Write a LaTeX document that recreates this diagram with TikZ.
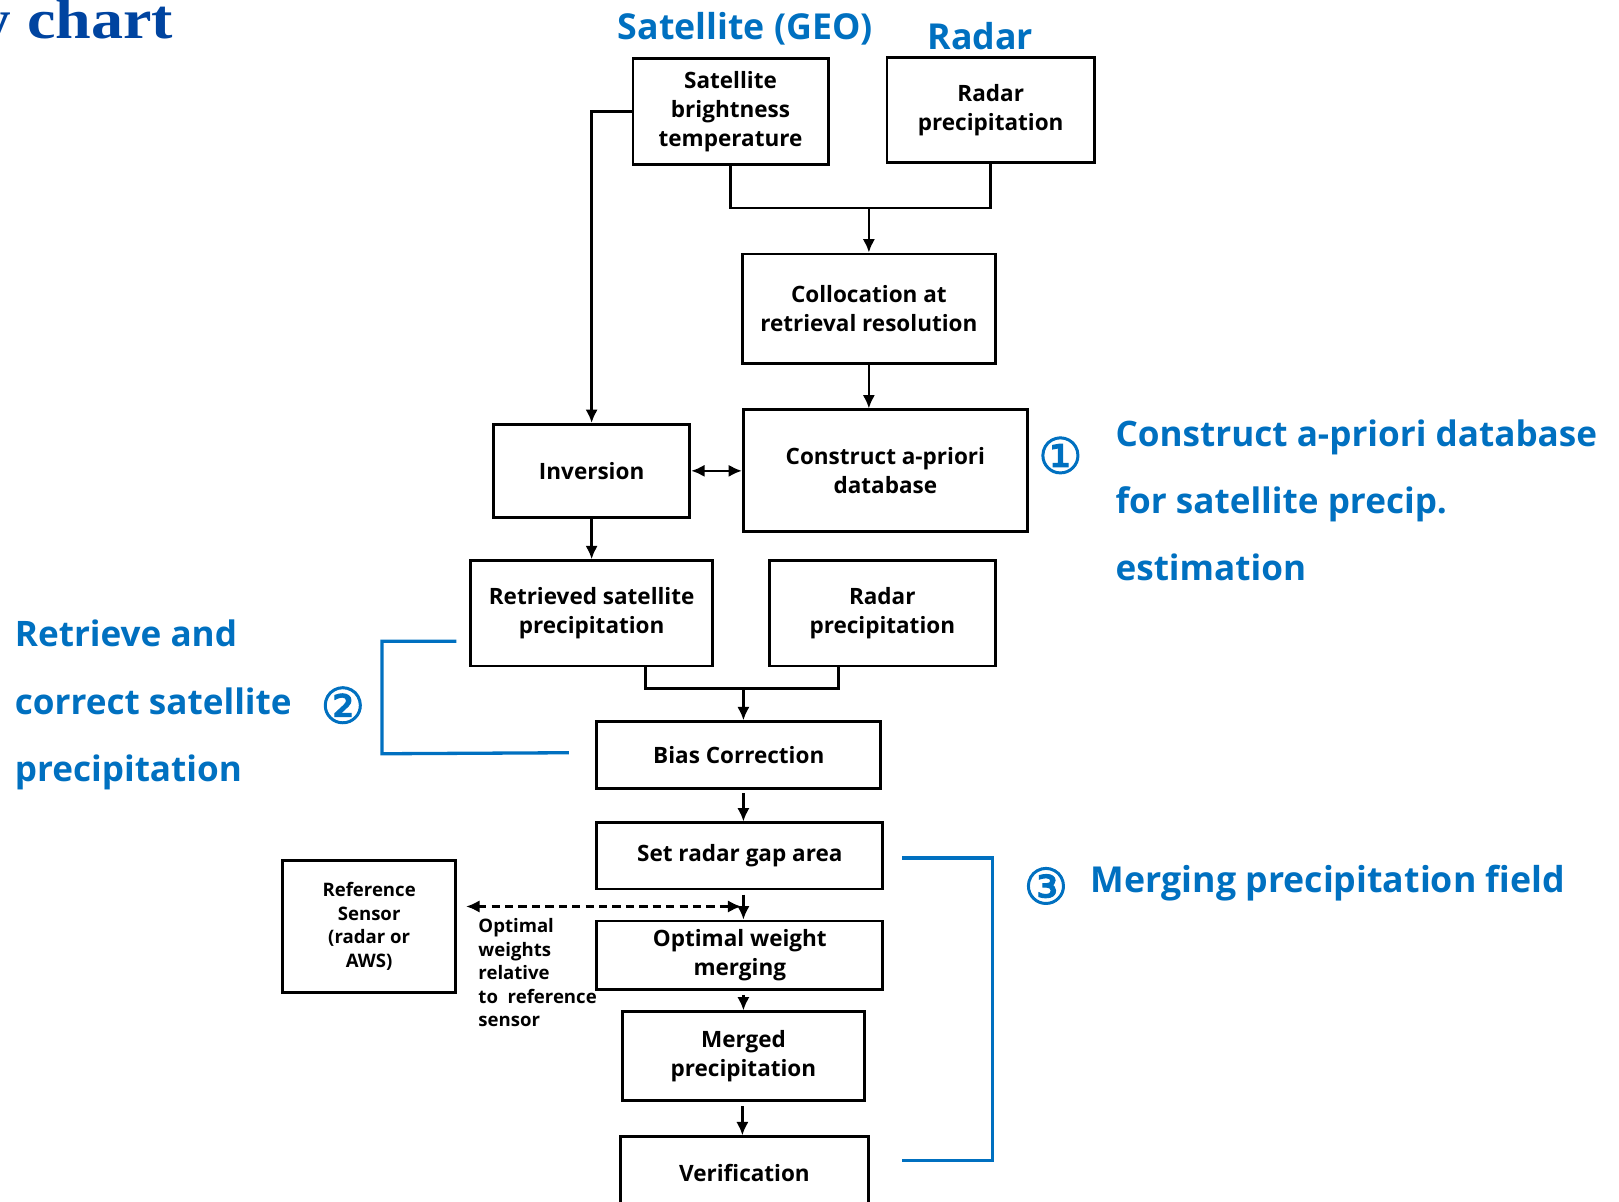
\documentclass[tikz,border=0pt]{standalone}
\usepackage{fontspec}
\setmainfont{Open Sans}
\newfontfamily\symfont[FakeBold=2]{DejaVu Sans}
\newfontfamily\titlefont[FakeStretch=1.15]{Liberation Serif}
\usetikzlibrary{arrows.meta,calc}
\definecolor{hdblue}{RGB}{0,112,192}
\definecolor{ttlblue}{RGB}{0,68,160}
\begin{document}
\begin{tikzpicture}[x=0.5pt,y=-0.5pt,
 box/.style={draw, line width=1.4pt, align=center, inner sep=0pt, font=\bfseries\fontsize{10.9}{14}\selectfont},
 smallbox/.style={box, font=\bfseries\fontsize{9}{11.4}\selectfont},
 arr/.style={line width=1.25pt, -{Latex[length=6.5pt,width=6pt]}},
 dbl/.style={line width=1.25pt, {Latex[length=6.5pt,width=6pt]}-{Latex[length=6.5pt,width=6pt]}},
 ln/.style={line width=1.25pt},
 brk/.style={draw=hdblue, line width=1.6pt},
 lbl/.style={text=hdblue, font=\bfseries\fontsize{17}{21}\selectfont, anchor=base west, inner sep=0pt},
 num/.style={text=hdblue, font=\symfont\fontsize{24}{27}\selectfont, inner sep=0pt},
 note/.style={font=\bfseries\fontsize{9}{11.4}\selectfont, align=left, anchor=north west, inner sep=0pt}
]
\useasboundingbox (0,0) rectangle (1568,1164);
\clip (0,0) rectangle (1568,1164);

% title
\node[anchor=base east, inner sep=0pt, text=ttlblue, font=\titlefont\bfseries\fontsize{27}{30}\selectfont] (title) at (168,37) {Flow chart};

% header labels
\node[lbl, font=\bfseries\fontsize{17.3}{21}\selectfont] (lsat) at (598,38) {Satellite (GEO)};
\node[lbl, font=\bfseries\fontsize{17.3}{21}\selectfont] (lradar) at (898,48) {Radar};

% boxes
\node[box, minimum width=94.5pt, minimum height=51pt] (sat) at (707.5,108) {Satellite\\brightness\\temperature};
\node[box, minimum width=100.5pt, minimum height=50.5pt] (rad1) at (959.5,106.5) {Radar\\precipitation};
\node[box, minimum width=122.5pt, minimum height=53pt] (coll) at (841.5,299) {Collocation at\\retrieval resolution};
\node[box, minimum width=137.5pt, minimum height=59pt] (cons) at (857.5,456) {Construct a-priori\\database};
\node[box, minimum width=95pt, minimum height=45pt] (inv) at (573,456) {Inversion};
\node[box, minimum width=117pt, minimum height=51pt] (ret) at (573,594) {Retrieved satellite\\precipitation};
\node[box, minimum width=109.5pt, minimum height=51pt] (rad2) at (854.5,594) {Radar\\precipitation};
\node[box, minimum width=137.5pt, minimum height=32.5pt] (bias) at (715.5,731.5) {Bias Correction};
\node[box, minimum width=138.5pt, minimum height=32pt] (gap) at (716.5,829) {Set radar gap area};
\node[box, minimum width=138.5pt, minimum height=33pt] (opt) at (716.5,925) {Optimal weight\\merging};
\node[box, minimum width=117pt, minimum height=43pt] (mer) at (720,1023) {Merged\\precipitation};
\node[box, minimum width=120pt, minimum height=35pt] (ver) at (721,1136) {Verification};
\node[smallbox, minimum width=83.5pt, minimum height=64pt] (refs) at (357.5,897) {Reference\\Sensor\\(radar or\\AWS)};

\node[note] (wnote) at (463,889) {Optimal\\weights\\relative\\to\ \ reference\\sensor};

% connectors
\path (coll.north) ++(0,-43) coordinate (j1);
\draw[ln] (sat.south) -- (sat.south |- j1) -- (rad1.south |- j1) -- (rad1.south);
\draw[arr] (j1) -- (coll.north -| j1);
\draw[arr] (coll.south -| j1) -- (cons.north -| j1);
\draw[dbl] (inv.east) -- (cons.west);
\draw[arr] (sat.west) -| (inv.north);
\draw[arr] (inv.south) -- (ret.north);

\coordinate (j2) at (720,667);
\draw[ln] ($(ret.south)+(52,0)$) |- (j2) -| ($(rad2.south)+(-42.5,0)$);
\draw[arr] (j2) -- (bias.north -| j2);
\draw[arr] ($(bias.south -| j2)+(0,3)$) -- (gap.north -| j2);
\draw[arr] ($(gap.south -| j2)+(0,4)$) -- (opt.north -| j2);
\coordinate (dR) at ($(gap.south -| j2)!0.55!(opt.north -| j2)$);
\draw[dbl, dash pattern=on 4pt off 2.5pt] ($(refs.east |- dR)+(9,0)$) -- ($(dR)+(-2,0)$);
\draw[arr] ($(opt.south -| j2)+(0,4)$) -- (mer.north -| j2);
\draw[arr] ($(mer.south)+(-1,4)$) -- ($(ver.north)+(-2,0)$);

% section 1
\node[num] (n1) at (1027,441) {①};
\node[lbl] (s1a) at (1080,432) {Construct a-priori database};
\node[lbl] (s1b) at (1080,497) {for satellite precip.};
\node[lbl] (s1c) at (1080,562) {estimation};

% section 2
\draw[brk] (442,621) -- (370,621) -- (370,730) -- (551,729);
\node[num] (n2) at (332,683) {②};
\node[lbl] (s2a) at (14,626) {Retrieve and};
\node[lbl] (s2b) at (14,692) {correct satellite};
\node[lbl] (s2c) at (14,757) {precipitation};

% section 3
\draw[brk] (874,831) -- (961,831) -- (961,1124) -- (874,1124);
\node[num] (n3) at (1013,858) {③};
\node[lbl, font=\bfseries\fontsize{17.3}{21}\selectfont] (s3) at (1056,864) {Merging precipitation field};
\end{tikzpicture}
\end{document}
